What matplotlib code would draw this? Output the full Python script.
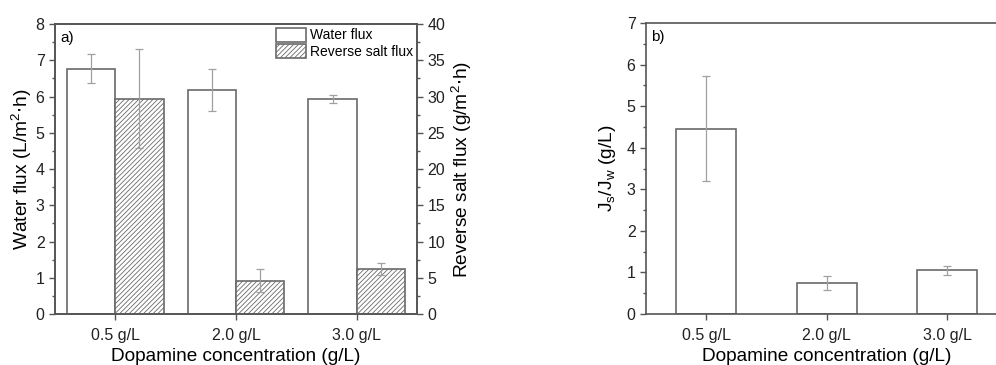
import matplotlib
matplotlib.use("Agg")
import matplotlib.pyplot as plt
import numpy as np
from matplotlib.ticker import MultipleLocator

plt.rcParams['font.family'] = ['Liberation Sans', 'DejaVu Sans']
plt.rcParams['hatch.color'] = '#b4b4b4'
plt.rcParams['hatch.linewidth'] = 0.6

categories = ["0.5 g/L", "2.0 g/L", "3.0 g/L"]
water_flux = [6.77, 6.17, 5.92]
water_err = [0.40, 0.58, 0.11]
salt_flux = [29.7, 4.6, 6.2]
salt_err = [6.8, 1.55, 0.8]
ratio = [4.46, 0.74, 1.05]
ratio_err = [1.27, 0.17, 0.10]

spine_c = '#555555'
edge_c = '#6a6a6a'
err_c = '#a0a0a0'

fig = plt.figure(figsize=(9.96, 3.65), dpi=100)
x = np.arange(1, len(categories) + 1)

def style(ax):
    for s in ax.spines.values():
        s.set_color(spine_c)
        s.set_linewidth(1.2)
    ax.tick_params(axis='both', direction='out', colors=spine_c, labelcolor='#222222',
                   labelsize=11.5, length=4, width=1)
    ax.tick_params(axis='x', pad=6)
    ax.tick_params(axis='both', which='minor', direction='out', colors=spine_c, length=2.5, width=1)

# Panel a
ax1 = fig.add_axes([0.0552, 0.1397, 0.3635, 0.7943])
w = 0.4
ax1.bar(x - w/2, water_flux, width=w, color='white', edgecolor=edge_c, linewidth=1.2,
        label='Water flux', zorder=2)
ax1.errorbar(x - w/2, water_flux, yerr=water_err, fmt='none', ecolor=err_c, elinewidth=0.9,
             capsize=3, capthick=0.9, zorder=3)
ax2 = ax1.twinx()
ax2.bar(x + w/2, salt_flux, width=w, color='white', edgecolor=edge_c, linewidth=1.2,
        hatch='///////', label='Reverse salt flux', zorder=2)
ax2.errorbar(x + w/2, salt_flux, yerr=salt_err, fmt='none', ecolor=err_c, elinewidth=0.9,
             capsize=3, capthick=0.9, zorder=3)
ax1.set_xlim(0.5, 3.5)
ax1.set_ylim(0, 8)
ax2.set_ylim(0, 40)
ax1.set_xticks(x)
ax1.set_xticklabels(categories)
ax1.yaxis.set_major_locator(MultipleLocator(1))
ax1.yaxis.set_minor_locator(MultipleLocator(0.5))
ax2.yaxis.set_major_locator(MultipleLocator(5))
ax2.yaxis.set_minor_locator(MultipleLocator(2.5))
style(ax1)
style(ax2)
ax1.set_ylabel('Water flux (L/m$^\\mathregular{2}$$\\cdot$h)', fontsize=13.8, labelpad=1)
ax2.set_ylabel('Reverse salt flux (g/m$^\\mathregular{2}$$\\cdot$h)', fontsize=13.8, labelpad=3)
ax1.set_xlabel('Dopamine concentration (g/L)', fontsize=13.7, labelpad=4)
ax1.text(0.015, 0.975, 'a)', transform=ax1.transAxes, fontsize=11, va='top', ha='left')
h1, l1 = ax1.get_legend_handles_labels()
h2, l2 = ax2.get_legend_handles_labels()
leg = ax2.legend(h1 + h2, l1 + l2, loc='upper right', frameon=False, fontsize=10,
                 handlelength=2.15, handleheight=1.2, handletextpad=0.35, labelspacing=0.1,
                 borderaxespad=0.15, borderpad=0.1)

# Panel b
ax3 = fig.add_axes([0.6486, 0.1397, 0.3630, 0.7973])
ax3.bar(x, ratio, width=0.5, color='white', edgecolor=edge_c, linewidth=1.2, zorder=2)
ax3.errorbar(x, ratio, yerr=ratio_err, fmt='none', ecolor=err_c, elinewidth=0.9,
             capsize=3, capthick=0.9, zorder=3)
ax3.set_xlim(0.5, 3.5)
ax3.set_ylim(0, 7)
ax3.set_xticks(x)
ax3.set_xticklabels(categories)
ax3.yaxis.set_major_locator(MultipleLocator(1))
ax3.yaxis.set_minor_locator(MultipleLocator(0.5))
style(ax3)
ax3.set_ylabel('J$_\\mathregular{s}$/J$_\\mathregular{w}$ (g/L)', fontsize=13.8, labelpad=6)
ax3.set_xlabel('Dopamine concentration (g/L)', fontsize=13.7, labelpad=4)
ax3.text(0.015, 0.975, 'b)', transform=ax3.transAxes, fontsize=11, va='top', ha='left')

fig.savefig('out.png', dpi=100)
